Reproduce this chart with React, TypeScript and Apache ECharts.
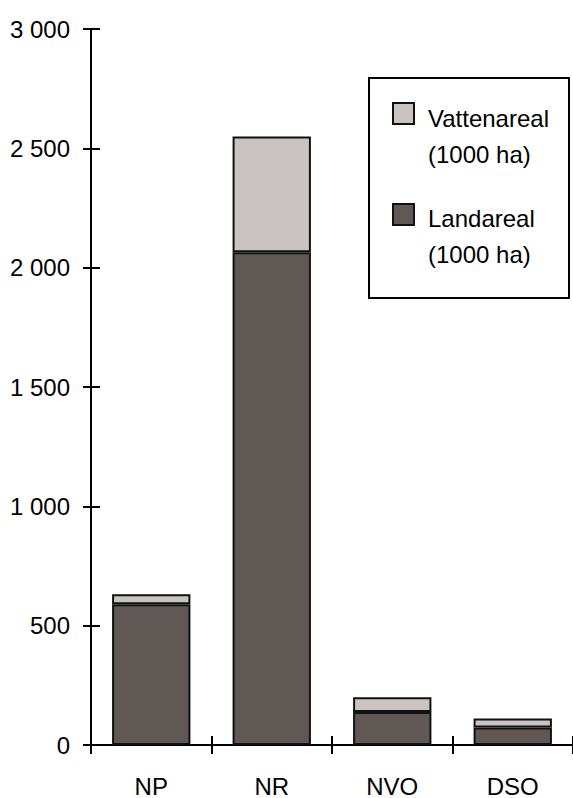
import React, { useEffect, useRef } from "react";
import * as echarts from "echarts";

const categories = ["NP", "NR", "NVO", "DSO"];
const landareal = [590, 2065, 138, 73];
const vattenareal = [42, 485, 62, 38];
const seriesNames = ["Vattenareal\n(1000 ha)", "Landareal\n(1000 ha)"];
const yMin = 0;
const yMax = 3000;
const yInterval = 500;

const LAND = "#605855";
const WATER = "#c9c4c1";
const FONT = "'Liberation Sans', Arial, Helvetica, sans-serif";
const FS = 24;

const fmt = (v: number) => String(v).replace(/\B(?=(\d{3})+(?!\d))/g, " ");

export default function App() {
  const ref = useRef<HTMLDivElement>(null);
  useEffect(() => {
    document.body.style.margin = "0";
    if (!ref.current) return;
    const chart = echarts.init(ref.current, undefined, { renderer: "svg" });
    const axisStyle = { color: "#000", width: 2 };
    const [waterName, landName] = seriesNames;
    const legendText = (x: number, y: number, text: string) =>
      text.split("\n").map((t, i) => ({
        type: "text",
        x,
        y: y + i * 36,
        style: {
          text: t,
          fill: "#000",
          font: `${FS}px ${FONT}`,
          verticalAlign: "middle",
          align: "left",
        },
      }));
    chart.setOption({
      animation: false,
      backgroundColor: "#fff",
      grid: { left: 91, right: 0, top: 29, bottom: 47, containLabel: false },
      xAxis: [
        {
          type: "category",
          data: categories,
          boundaryGap: true,
          axisLine: { show: true, lineStyle: axisStyle },
          axisTick: { show: true, inside: false, length: 9, lineStyle: axisStyle },
          axisLabel: { color: "#000", fontSize: FS, fontFamily: FONT, margin: 29 },
          splitLine: { show: false },
        },
        {
          type: "category",
          data: categories,
          position: "bottom",
          boundaryGap: true,
          axisLine: { show: false },
          axisTick: { show: true, inside: true, length: 9, lineStyle: axisStyle },
          axisLabel: { show: false },
          splitLine: { show: false },
        },
      ],
      yAxis: [
        {
          type: "value",
          min: yMin,
          max: yMax,
          interval: yInterval,
          axisLine: { show: true, lineStyle: axisStyle },
          axisTick: { show: true, inside: false, length: 8, lineStyle: axisStyle },
          axisLabel: {
            color: "#000",
            fontSize: FS,
            fontFamily: FONT,
            margin: 21,
            formatter: (v: number) => fmt(v),
          },
          splitLine: { show: false },
        },
        {
          type: "value",
          min: yMin,
          max: yMax,
          interval: yInterval,
          position: "left",
          axisLine: { show: false },
          axisTick: { show: true, inside: true, length: 9, lineStyle: axisStyle },
          axisLabel: { show: false },
          splitLine: { show: false },
        },
      ],
      series: [
        {
          name: landName,
          type: "bar",
          stack: "total",
          data: landareal,
          barWidth: "65%",
          itemStyle: { color: LAND, borderColor: "#111", borderWidth: 2 },
        },
        {
          name: waterName,
          type: "bar",
          stack: "total",
          data: vattenareal,
          barWidth: "65%",
          itemStyle: { color: WATER, borderColor: "#111", borderWidth: 2 },
        },
      ],
      graphic: [
        {
          type: "rect",
          shape: { x: 369, y: 78, width: 200, height: 220 },
          style: { fill: "#fff", stroke: "#000", lineWidth: 2 },
          z: 10,
        },
        {
          type: "rect",
          shape: { x: 393, y: 103, width: 21, height: 21 },
          style: { fill: WATER, stroke: "#111", lineWidth: 2 },
          z: 11,
        },
        ...legendText(428, 118, waterName).map((e) => ({ ...e, z: 11 })),
        {
          type: "rect",
          shape: { x: 393, y: 204, width: 21, height: 21 },
          style: { fill: LAND, stroke: "#111", lineWidth: 2 },
          z: 11,
        },
        ...legendText(428, 218, landName).map((e) => ({ ...e, z: 11 })),
      ],
    });
    return () => chart.dispose();
  }, []);
  return <div ref={ref} style={{ width: 573, height: 798 }} />;
}
